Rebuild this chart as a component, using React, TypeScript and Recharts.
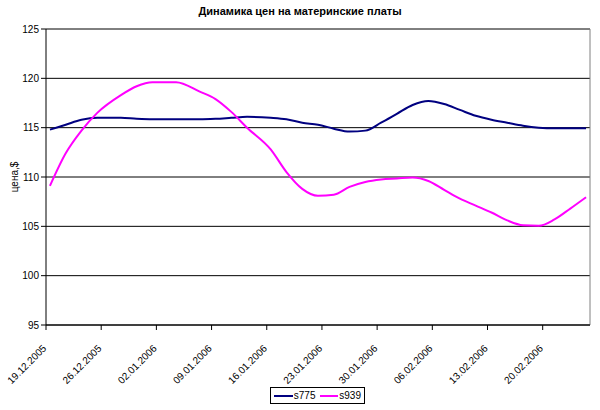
import React from "react";
import { LineChart, Line, XAxis, YAxis, CartesianGrid, ReferenceLine, Legend } from "recharts";

// day offsets from 19.12.2005
const days = [0, 2, 4, 6, 9, 11, 13, 16, 19, 21, 23, 25, 28, 30, 32, 34, 36, 38, 40, 42, 44, 46, 48, 50, 52, 54, 56, 58, 60, 62, 64, 66, 68];
const s775 = [114.8, 115.3, 115.8, 116.0, 116.0, 115.9, 115.85, 115.85, 115.85, 115.9, 116.0, 116.1, 116.0, 115.85, 115.5, 115.3, 114.9, 114.6, 114.7, 115.5, 116.4, 117.3, 117.7, 117.4, 116.8, 116.2, 115.8, 115.5, 115.2, 115.0, 114.93, 114.93, 114.93];
const s939 = [109.1, 112.4, 114.7, 116.5, 118.3, 119.2, 119.6, 119.6, 118.65, 117.9, 116.6, 115.0, 112.8, 110.5, 108.8, 108.1, 108.2, 109.0, 109.5, 109.75, 109.85, 109.95, 109.6, 108.7, 107.8, 107.1, 106.4, 105.6, 105.1, 105.05, 105.7, 106.8, 107.95];
const tickDays = [0, 7, 14, 21, 28, 35, 42, 49, 56, 63];
const tickLabels = ["19.12.2005", "26.12.2005", "02.01.2006", "09.01.2006", "16.01.2006", "23.01.2006", "30.01.2006", "06.02.2006", "13.02.2006", "20.02.2006"];
const yTicks = [95, 100, 105, 110, 115, 120, 125];
const title = "Динамика цен на материнские платы";
const yLabel = "цена,$";

const data = days.map((d, i) => ({ x: d + 0.5, s775: s775[i], s939: s939[i] }));

const FONT = "Arial, 'Liberation Sans', sans-serif";

const XTick = (props: any) => {
  const { x, y, payload } = props;
  const idx = tickDays.indexOf(payload.value);
  const label = idx >= 0 ? tickLabels[idx] : "";
  const tx = x + 1;
  const ty = y + 17;
  return (
    <text x={tx} y={ty} transform={`rotate(-45, ${tx}, ${ty})`} textAnchor="end" fontSize={10} fontFamily={FONT} fill="#000">
      {label}
    </text>
  );
};

const LegendBox = () => (
  <div style={{ border: "1px solid #000", display: "flex", alignItems: "center", height: 17, width: 95, padding: "0 3px", fontFamily: FONT, fontSize: 10, background: "#fff", boxSizing: "border-box" }}>
    <span style={{ display: "inline-block", width: 21, height: 2, background: "#000080", marginRight: 1 }} />
    <span style={{ marginRight: 4 }}>s775</span>
    <span style={{ display: "inline-block", width: 21, height: 2, background: "#FF00FF", marginRight: 1 }} />
    <span>s939</span>
  </div>
);

export default function App() {
  return (
    <div style={{ position: "absolute", left: 0, top: 0, width: 600, height: 410, background: "#fff" }}>
      <div style={{ position: "absolute", left: 0, width: 600, top: 5, textAlign: "center", fontFamily: FONT, fontSize: 11, fontWeight: "bold" }}>{title}</div>
      <LineChart width={600} height={410} data={data} margin={{ top: 29, right: 10, left: 0, bottom: 18 }}>
        <CartesianGrid vertical={false} stroke="#000" strokeWidth={1} />
        <XAxis
          dataKey="x"
          type="number"
          domain={[0, 69]}
          ticks={tickDays}
          interval={0}
          tick={<XTick />}
          tickSize={5}
          axisLine={{ stroke: "#000" }}
          tickLine={{ stroke: "#000" }}
          height={50}
        />
        <YAxis
          domain={[95, 125]}
          ticks={yTicks}
          interval={0}
          width={46}
          tickSize={5}
          axisLine={{ stroke: "#000" }}
          tickLine={{ stroke: "#000" }}
          tick={{ fontSize: 10, fontFamily: FONT, fill: "#000" }}
          label={{ value: yLabel, angle: -90, position: "insideLeft", offset: 14, style: { fontSize: 10, fontFamily: FONT, fill: "#000", textAnchor: "middle" } }}
        />
        <ReferenceLine y={125} stroke="#808080" />
        <ReferenceLine x={69} stroke="#808080" />
        <Line type="monotone" dataKey="s775" stroke="#000080" strokeWidth={2} dot={false} isAnimationActive={false} />
        <Line type="monotone" dataKey="s939" stroke="#FF00FF" strokeWidth={2} dot={false} isAnimationActive={false} />
        <Legend content={<LegendBox />} wrapperStyle={{ position: "absolute", left: 270, top: 387, width: "auto" }} />
      </LineChart>
    </div>
  );
}
